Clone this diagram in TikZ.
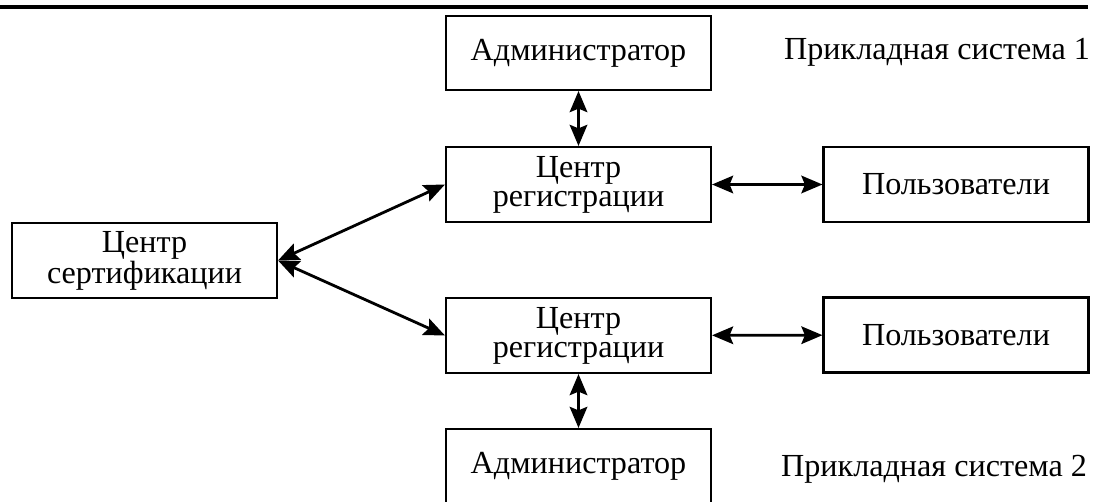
\documentclass[tikz,border=0pt]{standalone}
\usepackage{fontspec}
\setmainfont{Liberation Serif}
\usetikzlibrary{arrows.meta}

\begin{document}
\begin{tikzpicture}[x=0.02cm, y=-0.02cm,
  every node/.style={align=center, font=\fontsize{18.3}{16.5}\selectfont},
  block/.style={draw, line width=1.2pt, minimum width=5.3cm, minimum height=1.5cm, inner sep=1pt},
  link/.style={arrows={Stealth[length=12pt, width=10pt, inset=2pt]-Stealth[length=12pt, width=10pt, inset=2pt]}, line width=1.6pt}]
\useasboundingbox (0,0) rectangle (1094,502);

% Top rule
\coordinate (ruleL) at (0,7);
\coordinate (ruleR) at (1088,7);
\draw[line width=2pt] (ruleL) -- (ruleR);

% Certification centre
\node[block] (cert) at (144.5,260.5) {Центр\\сертификации};

% Application system 1
\node[block, minimum height=1.48cm] (admA) at (578.5,53) {Администратор};
\node[block] (regA) at (578.5,184.5) {Центр\\регистрации};
\node[block] (userA) at (956,184.5) {Пользователи};
\node (sysA) at (937,52) {Прикладная система 1};

% Application system 2
\node[block] (regB) at (578.5,335.5) {Центр\\регистрации};
\node[block] (userB) at (956,335) {Пользователи};
\node[block] (admB) at (578.5,466.5) {Администратор};
\node (sysB) at (934,469) {Прикладная система 2};

% Arrows
\draw[link] (admA) -- (regA);
\draw[link] (regA) -- (userA);
\draw[link] (cert.east) -- (regA.west);
\draw[link] (cert.east) -- (regB.west);
\draw[link] (regB) -- (userB);
\draw[link] (regB) -- (admB);
\end{tikzpicture}
\end{document}
